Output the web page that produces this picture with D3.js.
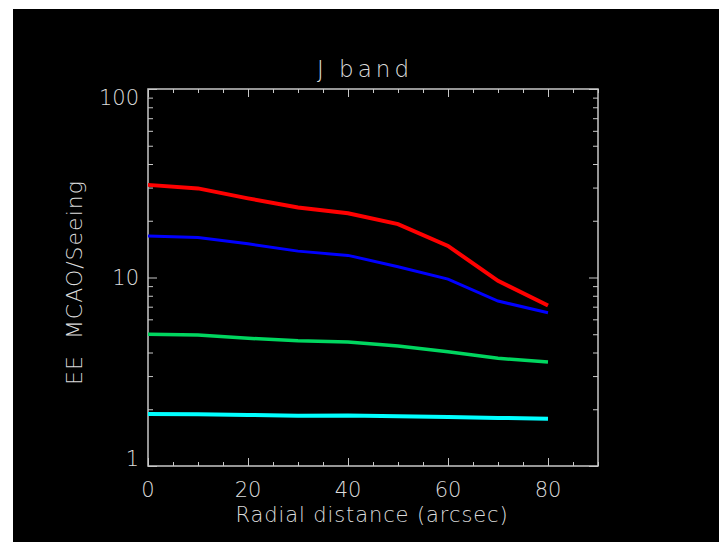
<!DOCTYPE html>
<html>
<head>
<meta charset="utf-8">
<script src="https://cdn.jsdelivr.net/npm/d3@7"></script>
<style>
  html, body { margin: 0; padding: 0; background: #fff; }
  svg { display: block; }
  text { font-family: "DejaVu Sans", sans-serif; font-weight: 200; fill: #dcdcdc; }
</style>
</head>
<body>
<div id="grafica"></div>
<script>
// datos
const distancias = [0, 10, 20, 30, 40, 50, 60, 70, 80];
const rojo  = [31.0, 29.7, 26.3, 23.5, 21.9, 19.2, 14.7, 9.6, 7.1];
const azul  = [16.6, 16.3, 15.1, 13.8, 13.1, 11.4, 9.8, 7.5, 6.5];
const verde = [5.0, 4.95, 4.76, 4.62, 4.55, 4.33, 4.04, 3.73, 3.56];
const cian  = [1.89, 1.88, 1.865, 1.85, 1.855, 1.835, 1.82, 1.80, 1.78];
const ticks_x = [0, 20, 40, 60, 80];
const ticks_y = [1, 10, 100];

function grafica_jband() {
    const width = 719, height = 542;
    const margin = { left: 148, right: 121, top: 89, bottom: 76 };

    const x = d3.scaleLinear()
        .domain([0, 90])
        .range([margin.left, width - margin.right]);

    const y = d3.scaleLog()
        .domain([1, 100])
        .range([height - margin.bottom, margin.top]);

    const svg = d3.select('#grafica').append('svg')
        .attr('width', width)
        .attr('height', height);

    // fondo negro (deja una franja blanca arriba y a la izquierda)
    svg.append('rect')
        .attr('x', 13).attr('y', 9)
        .attr('width', width - 13).attr('height', height - 9)
        .attr('fill', '#000');

    const menores_x = d3.range(0, 91, 5).filter(d => d % 20 !== 0);
    const menores_y = [];
    [1, 10].forEach(dec => { for (let k = 2; k <= 9; k++) menores_y.push(dec * k); });

    const estiloEje = g => {
        g.select('.domain').remove();
        g.selectAll('line').attr('stroke', '#c8c8c8').attr('stroke-width', 1);
        g.selectAll('text').remove();
    };

    const y0 = y.range()[0], y1 = y.range()[1];
    const x0 = x.range()[0], x1 = x.range()[1];

    // ticks abajo y arriba
    svg.append('g').attr('transform', `translate(0,${y0})`)
        .call(d3.axisBottom(x).tickValues(menores_x).tickSize(-4)).call(estiloEje);
    svg.append('g').attr('transform', `translate(0,${y0})`)
        .call(d3.axisBottom(x).tickValues(ticks_x).tickSize(-8)).call(estiloEje);
    svg.append('g').attr('transform', `translate(0,${y1})`)
        .call(d3.axisTop(x).tickValues(menores_x).tickSize(-4)).call(estiloEje);
    svg.append('g').attr('transform', `translate(0,${y1})`)
        .call(d3.axisTop(x).tickValues(ticks_x).tickSize(-8)).call(estiloEje);

    // ticks izquierda y derecha
    svg.append('g').attr('transform', `translate(${x0},0)`)
        .call(d3.axisLeft(y).tickValues(menores_y).tickSize(-5)).call(estiloEje);
    svg.append('g').attr('transform', `translate(${x0},0)`)
        .call(d3.axisLeft(y).tickValues(ticks_y).tickSize(-9)).call(estiloEje);
    svg.append('g').attr('transform', `translate(${x1},0)`)
        .call(d3.axisRight(y).tickValues(menores_y).tickSize(-5)).call(estiloEje);
    svg.append('g').attr('transform', `translate(${x1},0)`)
        .call(d3.axisRight(y).tickValues(ticks_y).tickSize(-9)).call(estiloEje);

    // marco
    svg.append('rect')
        .attr('x', x0).attr('y', y1)
        .attr('width', x1 - x0).attr('height', y0 - y1)
        .attr('fill', 'none')
        .attr('stroke', '#c8c8c8')
        .attr('stroke-width', 1.5);

    // etiquetas x
    svg.selectAll('text.tx')
        .data(ticks_x).enter().append('text')
        .attr('class', 'tx')
        .attr('x', d => x(d))
        .attr('y', y0 + 31)
        .attr('text-anchor', 'middle')
        .style('font-size', '21px')
        .text(d => d);

    // etiquetas y (100 bajo el tick, 1 sobre el tick)
    svg.selectAll('text.ty')
        .data(ticks_y).enter().append('text')
        .attr('class', 'ty')
        .attr('x', x0 - 9)
        .attr('y', d => y(d))
        .attr('dy', d => d === 100 ? '0.75em' : (d === 10 ? '0.38em' : '0'))
        .attr('text-anchor', 'end')
        .style('font-size', '21px')
        .text(d => d);

    // titulo
    svg.append('text')
        .attr('x', (x0 + x1) / 2 - 8)
        .attr('y', 77)
        .attr('text-anchor', 'middle')
        .style('font-size', '23px')
        .style('letter-spacing', '4px')
        .text('J band');

    svg.append('text')
        .attr('x', (x0 + x1) / 2 - 1)
        .attr('y', 522)
        .attr('text-anchor', 'middle')
        .style('font-size', '21px')
        .style('letter-spacing', '0.9px')
        .text('Radial distance (arcsec)');

    svg.append('text')
        .attr('transform', `translate(82,${(y0 + y1) / 2 + 5}) rotate(-90)`)
        .attr('text-anchor', 'middle')
        .style('font-size', '22px')
        .style('letter-spacing', '1px')
        .style('white-space', 'pre')
        .text('EE  MCAO/Seeing');

    // curvas
    const series = [
        { nombre: 'rojo', valores: rojo, color: '#ff0000', ancho: 4 },
        { nombre: 'azul', valores: azul, color: '#0000ff', ancho: 3 },
        { nombre: 'verde', valores: verde, color: '#00d760', ancho: 3.5 },
        { nombre: 'cian', valores: cian, color: '#00ffff', ancho: 4 }
    ];

    const linea = d3.line()
        .x((d, i) => x(distancias[i]))
        .y(d => y(d));

    svg.selectAll('path.curva')
        .data(series).enter().append('path')
        .attr('class', 'curva')
        .attr('d', d => linea(d.valores))
        .attr('fill', 'none')
        .attr('stroke', d => d.color)
        .attr('stroke-width', d => d.ancho);
}

grafica_jband();
</script>
</body>
</html>
